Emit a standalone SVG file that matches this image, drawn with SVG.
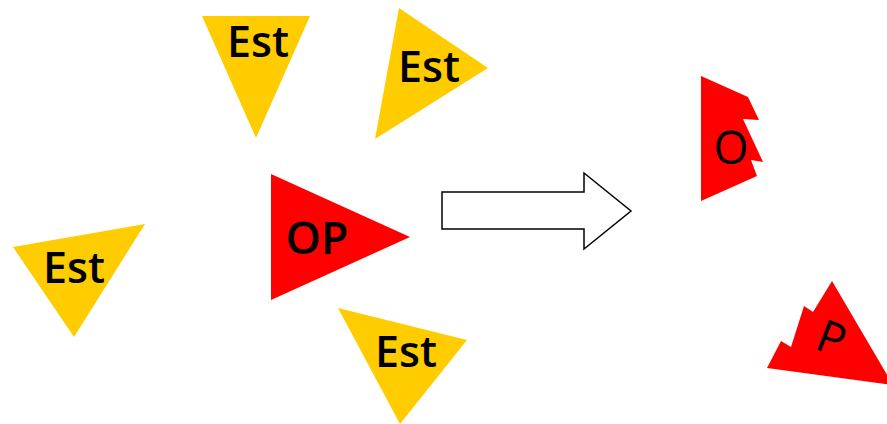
<svg xmlns="http://www.w3.org/2000/svg" width="887" height="424" viewBox="0 0 887 424">
<style>
.y{fill:#FFCC00}
.r{fill:#FF0000}
.est{font-family:"Open Sans","Liberation Sans",sans-serif;font-size:43px;font-weight:600;fill:#000;text-anchor:middle}
.op{font-family:"Open Sans","Liberation Sans",sans-serif;font-size:45px;font-weight:600;fill:#000;text-anchor:middle}
.pc{font-family:"Open Sans","Liberation Sans",sans-serif;font-size:45px;font-weight:400;fill:#000;text-anchor:middle}
</style>
<rect width="887" height="424" fill="#fff"/>
<g id="est-top">
<polygon class="y" points="202,16 310,16 256,138"/>
<text class="est" x="258" y="57">Est</text>
</g>
<g id="est-topright">
<polygon class="y" points="399,8 488,68 375,139"/>
<text class="est" x="429" y="82">Est</text>
</g>
<g id="est-left">
<polygon class="y" points="13,247 145,224 74,337"/>
<text class="est" x="74" y="283">Est</text>
</g>
<g id="est-bottom">
<polygon class="y" points="338,308 467,340 400,424"/>
<text class="est" x="406" y="367">Est</text>
</g>
<g id="op">
<polygon class="r" points="271,174 410,237 271,300"/>
<text class="op" x="317" y="254">OP</text>
</g>
<g id="connectors">
<polygon points="442,192 584,192 584,173 631,211 584,249 584,229 442,229" fill="#fff" stroke="#000" stroke-width="1.5"/>
</g>
<g id="piece-o">
<polygon class="r" points="701,76 748,97 759,120 743,119 763,162 751,160 757,176 701,201"/>
<text class="pc" x="731" y="164">O</text>
</g>
<g id="piece-p">
<polygon class="r" points="832,281 893,385 767,368 781,341 791,347 804,306 813,312"/>
<text class="pc" x="0" y="0" transform="translate(826,353) rotate(21)">P</text>
</g>
</svg>
